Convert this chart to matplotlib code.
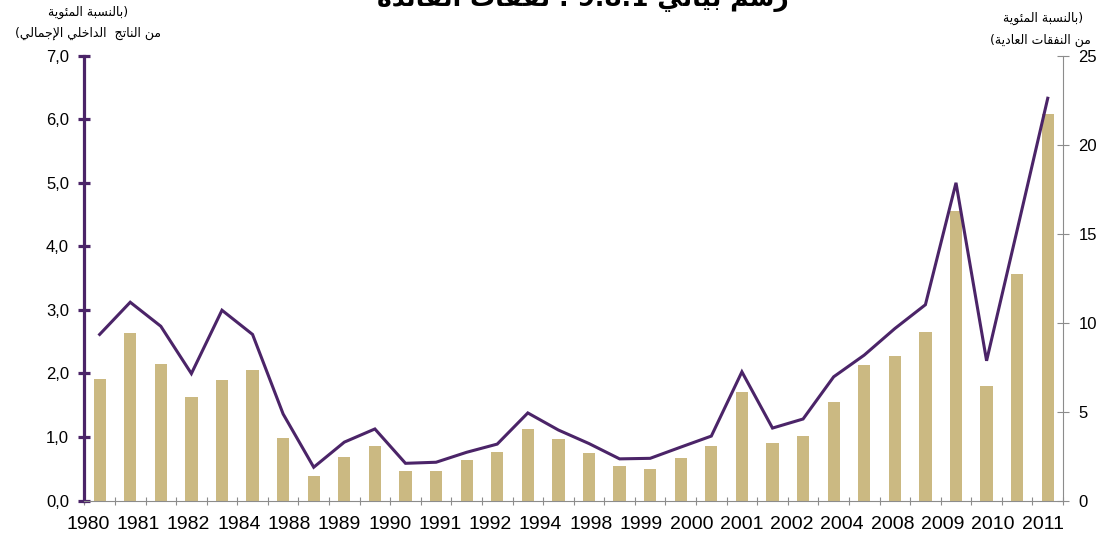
import matplotlib
matplotlib.use("Agg")
import matplotlib.pyplot as plt
import numpy as np
from matplotlib.ticker import FuncFormatter

# data
year_labels = ["1980", "1981", "1982", "1984", "1988", "1989", "1990", "1991", "1992", "1994",
               "1998", "1999", "2000", "2001", "2002", "2004", "2008", "2009", "2010", "2011"]
# interest spending, % of GDP (bars, left axis)
pct_gdp = [1.91, 2.64, 2.14, 1.63, 1.90, 2.06, 0.98, 0.39, 0.68, 0.86, 0.46, 0.47, 0.64, 0.76,
           1.13, 0.96, 0.75, 0.54, 0.50, 0.67, 0.86, 1.71, 0.91, 1.02, 1.55, 2.13, 2.27, 2.65,
           4.56, 1.80, 3.56, 6.08]
# interest spending, % of current expenditure (line, right axis)
pct_current = [9.33, 11.14, 9.79, 7.13, 10.69, 9.33, 4.86, 1.87, 3.28, 4.02, 2.09, 2.15, 2.71,
               3.17, 4.92, 3.96, 3.20, 2.34, 2.37, 3.00, 3.62, 7.23, 4.07, 4.58, 6.95, 8.17,
               9.66, 11.00, 17.85, 7.85, 15.20, 22.60]

title_txt = "رسم بياني 9.8.1 : نفقات الفائدة"
left_cap = ["(بالنسبة المئوية", "من الناتج  الداخلي الإجمالي)"]
right_cap = ["(بالنسبة المئوية", "من النفقات العادية)"]

BAR_COLOR = "#CBB982"
LINE_COLOR = "#4B2468"
GREY = "#8C8C8C"

# --- minimal arabic shaping (matplotlib has no bidi / shaping) ---
DUAL = {"ب": 0xFE8F, "ت": 0xFE95, "ج": 0xFE9D, "ح": 0xFEA1, "خ": 0xFEA5, "س": 0xFEB1,
        "ع": 0xFEC9, "ف": 0xFED1, "ق": 0xFED5, "ل": 0xFEDD, "م": 0xFEE1, "ن": 0xFEE5,
        "ه": 0xFEE9, "ي": 0xFEF1, "ئ": 0xFE89}
RIGHT = {"ا": 0xFE8D, "إ": 0xFE87, "ة": 0xFE93, "د": 0xFEA9, "ر": 0xFEAD, "و": 0xFEED}
LAM_ALEF = {"ا": 0xFEFB, "إ": 0xFEF9}
MIRROR = {"(": ")", ")": "("}


def shape_word(word):
    letters = []
    i = 0
    while i < len(word):
        c = word[i]
        if c == "ل" and i + 1 < len(word) and word[i + 1] in LAM_ALEF:
            letters.append(("R", LAM_ALEF[word[i + 1]]))
            i += 2
            continue
        if c in DUAL:
            letters.append(("D", DUAL[c]))
        elif c in RIGHT:
            letters.append(("R", RIGHT[c]))
        else:
            letters.append(("N", MIRROR.get(c, c)))
        i += 1
    out = []
    for k, (t, b) in enumerate(letters):
        if t == "N":
            out.append(b)
            continue
        prev_j = k > 0 and letters[k - 1][0] == "D"
        next_j = t == "D" and k + 1 < len(letters) and letters[k + 1][0] in "DR"
        if t == "R":
            form = 1 if prev_j else 0
        else:
            form = {(False, False): 0, (True, False): 1, (False, True): 2, (True, True): 3}[(prev_j, next_j)]
        out.append(chr(b + form))
    return "".join(out)


def rtl(text):
    tokens = []
    for tok in text.split(" "):
        if any(ch in DUAL or ch in RIGHT for ch in tok):
            tokens.append(shape_word(tok)[::-1])
        else:
            tokens.append(tok)
    return " ".join(tokens[::-1])


x = np.arange(len(pct_gdp))

fig = plt.figure(figsize=(11.04, 5.39), dpi=100)
ax = fig.add_axes([0.0764, 0.0714, 0.8865, 0.8256])
ax2 = ax.twinx()

ax.bar(x, pct_gdp, width=0.4, color=BAR_COLOR, zorder=2)
ax2.plot(x, pct_current, color=LINE_COLOR, linewidth=2.2, solid_joinstyle="miter")

ax.set_xlim(-0.5, len(x) - 0.5)
ax.set_ylim(0, 7)
ax2.set_ylim(0, 25)

ax.set_yticks(np.arange(0, 7.01, 1))
ax.yaxis.set_major_formatter(FuncFormatter(lambda v, p: f"{v:.1f}".replace(".", ",")))
ax2.set_yticks(np.arange(0, 26, 5))

ax.set_xticks(np.arange(-0.5, len(x), 1), minor=True)
ax.set_xticks(np.linspace(-0.38, 30.85, len(year_labels)))
ax.set_xticklabels(year_labels)

for a in (ax, ax2):
    a.spines["top"].set_visible(False)
ax.spines["right"].set_visible(False)
ax2.spines["left"].set_visible(False)
ax2.spines["bottom"].set_visible(False)
ax.spines["left"].set_color(LINE_COLOR)
ax.spines["left"].set_linewidth(2.3)
ax.spines["bottom"].set_color(GREY)
ax.spines["bottom"].set_linewidth(0.8)
ax2.spines["right"].set_color(GREY)
ax2.spines["right"].set_linewidth(0.8)

ax.tick_params(axis="y", direction="inout", length=8, width=2.3, color=LINE_COLOR,
               labelsize=12, pad=7)
ax2.tick_params(axis="y", direction="inout", length=8, width=0.8, color=GREY,
                labelsize=12, pad=7)
ax.tick_params(axis="x", which="major", length=0, labelsize=14, pad=11)
ax.tick_params(axis="x", which="minor", direction="inout", length=6, width=0.8, color=GREY)

for lab in ax.get_xticklabels():
    lab.set_family(["Liberation Sans", "DejaVu Sans"])
for lab in ax.get_yticklabels() + ax2.get_yticklabels():
    lab.set_family(["Liberation Sans", "DejaVu Sans"])

ar = ["DejaVu Sans"]
fig.text(88 / 1104, 1 - 12 / 539, rtl(left_cap[0]), ha="center", va="center", fontsize=9, family=ar)
fig.text(88 / 1104, 1 - 33 / 539, rtl(left_cap[1]), ha="center", va="center", fontsize=9, family=ar)
fig.text(1043 / 1104, 1 - 18 / 539, rtl(right_cap[0]), ha="center", va="center", fontsize=9, family=ar)
fig.text(1040 / 1104, 1 - 40 / 539, rtl(right_cap[1]), ha="center", va="center", fontsize=9, family=ar)
fig.text(583 / 1104, 1.0, rtl(title_txt), ha="center", va="center", fontsize=18,
         fontweight="bold", family=ar)

fig.savefig("out.png", dpi=100)
